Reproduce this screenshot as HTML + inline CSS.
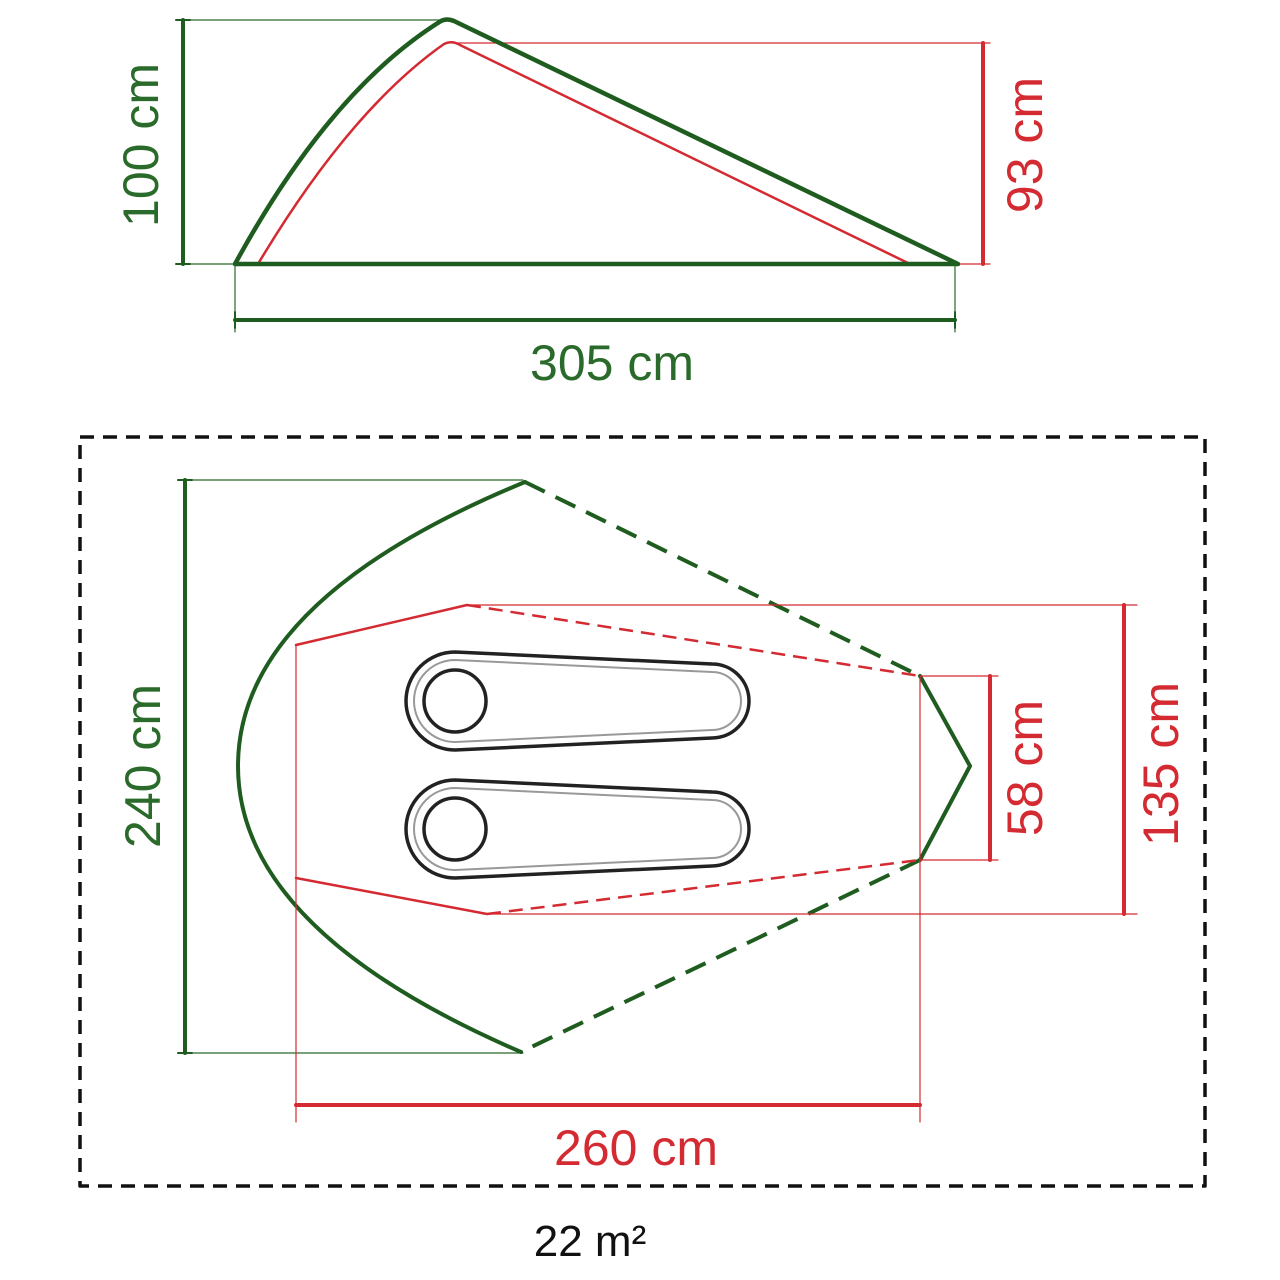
<!DOCTYPE html>
<html><head><meta charset="utf-8"><style>
html,body{margin:0;padding:0;background:#fff;}
svg{display:block;}
text{font-family:"Liberation Sans",sans-serif;font-size:50px;}
</style></head><body>
<svg width="1280" height="1280" viewBox="0 0 1280 1280" xmlns="http://www.w3.org/2000/svg">
<g fill="none" stroke-linecap="round" stroke-linejoin="round">
<line x1="183" y1="20" x2="447" y2="20" stroke="#2a6a2a" stroke-width="1.2"/>
<line x1="183" y1="264" x2="235" y2="264" stroke="#2a6a2a" stroke-width="1.2"/>
<line x1="183" y1="20" x2="183" y2="264" stroke="#1f5c1f" stroke-width="4"/>
<line x1="176" y1="20" x2="190" y2="20" stroke="#1f5c1f" stroke-width="2"/>
<line x1="176" y1="264" x2="190" y2="264" stroke="#1f5c1f" stroke-width="2"/>
<line x1="452" y1="43" x2="990" y2="43" stroke="#d42a32" stroke-width="1.2"/>
<line x1="958" y1="264" x2="990" y2="264" stroke="#d42a32" stroke-width="1.2"/>
<line x1="983" y1="43" x2="983" y2="264" stroke="#d42a32" stroke-width="4"/>
<path d="M258 264 Q350 110 444 44 Q452 40 460 45 L910 264" stroke="#d42a32" stroke-width="2.5"/>
<path d="M235 264 Q330 90 441 21 Q447 18 454 21 L958 264 Z" stroke="#1f5c1f" stroke-width="4.5"/>
<line x1="235" y1="264" x2="235" y2="332" stroke="#2a6a2a" stroke-width="1.2"/>
<line x1="955" y1="264" x2="955" y2="332" stroke="#2a6a2a" stroke-width="1.2"/>
<line x1="235" y1="320" x2="955" y2="320" stroke="#1f5c1f" stroke-width="4"/>
<line x1="235" y1="312" x2="235" y2="328" stroke="#1f5c1f" stroke-width="2"/>
<line x1="955" y1="312" x2="955" y2="328" stroke="#1f5c1f" stroke-width="2"/>

<rect x="80" y="437" width="1125" height="749" stroke="#111" stroke-width="3.5" stroke-dasharray="14 9" stroke-linecap="butt"/>

<line x1="185" y1="480" x2="523" y2="480" stroke="#2a6a2a" stroke-width="1.2"/>
<line x1="185" y1="1053" x2="523" y2="1053" stroke="#2a6a2a" stroke-width="1.2"/>
<line x1="185" y1="480" x2="185" y2="1053" stroke="#1f5c1f" stroke-width="4"/>
<line x1="178" y1="480" x2="192" y2="480" stroke="#1f5c1f" stroke-width="2"/>
<line x1="178" y1="1053" x2="192" y2="1053" stroke="#1f5c1f" stroke-width="2"/>
<path d="M525 482 Q238 600 238 766 Q238 930 521 1052" stroke="#1f5c1f" stroke-width="4"/>
<path d="M525 482 L920 676 M920 860 L521 1052" stroke="#1f5c1f" stroke-width="4" stroke-dasharray="22 12" stroke-linecap="butt"/>
<path d="M920 676 L970 766 L920 860" stroke="#1f5c1f" stroke-width="4"/>

<line x1="467" y1="605" x2="1137" y2="605" stroke="#d42a32" stroke-width="1.2"/>
<line x1="487" y1="914" x2="1137" y2="914" stroke="#d42a32" stroke-width="1.2"/>
<line x1="1124" y1="605" x2="1124" y2="914" stroke="#d42a32" stroke-width="4"/>
<line x1="920" y1="676" x2="998" y2="676" stroke="#d42a32" stroke-width="1.2"/>
<line x1="920" y1="860" x2="998" y2="860" stroke="#d42a32" stroke-width="1.2"/>
<line x1="990" y1="676" x2="990" y2="860" stroke="#d42a32" stroke-width="4"/>
<line x1="296" y1="645" x2="296" y2="1122" stroke="#d42a32" stroke-width="1.2"/>
<line x1="920" y1="676" x2="920" y2="1122" stroke="#d42a32" stroke-width="1.2"/>
<line x1="296" y1="1105" x2="920" y2="1105" stroke="#d42a32" stroke-width="4"/>
<path d="M296 645 L467 605 M296 878 L487 914" stroke="#d42a32" stroke-width="2.5"/>
<path d="M467 605 L920 676 M487 914 L920 860" stroke="#d42a32" stroke-width="2.5" stroke-dasharray="14 8" stroke-linecap="butt"/>

<g stroke="#222" stroke-width="3.5">
<path d="M455 652 L712 664 A37 37 0 0 1 712 738 L455 750 A49 49 0 0 1 455 652 Z"/>
<path d="M455 660 L712 672 A29 29 0 0 1 712 730 L455 742 A41 41 0 0 1 455 660 Z" stroke="#999" stroke-width="2"/>
<circle cx="455" cy="701" r="31"/>
<path d="M455 780 L712 792 A37 37 0 0 1 712 866 L455 878 A49 49 0 0 1 455 780 Z"/>
<path d="M455 788 L712 800 A29 29 0 0 1 712 858 L455 870 A41 41 0 0 1 455 788 Z" stroke="#999" stroke-width="2"/>
<circle cx="455" cy="829" r="31"/>
</g>
</g>

<text x="612" y="380" text-anchor="middle" fill="#2a6a2a">305 cm</text>
<text transform="translate(158,145) rotate(-90)" text-anchor="middle" fill="#2a6a2a">100 cm</text>
<text transform="translate(1042,145) rotate(-90)" text-anchor="middle" fill="#d42a32">93 cm</text>
<text transform="translate(160,766) rotate(-90)" text-anchor="middle" fill="#2a6a2a">240 cm</text>
<text transform="translate(1042,768) rotate(-90)" text-anchor="middle" fill="#d42a32">58 cm</text>
<text transform="translate(1178,764) rotate(-90)" text-anchor="middle" fill="#d42a32">135 cm</text>
<text x="636" y="1165" text-anchor="middle" fill="#d42a32">260 cm</text>
<text x="590" y="1256" text-anchor="middle" fill="#111" style="font-size:44px">22 m²</text>
</svg>
</body></html>
